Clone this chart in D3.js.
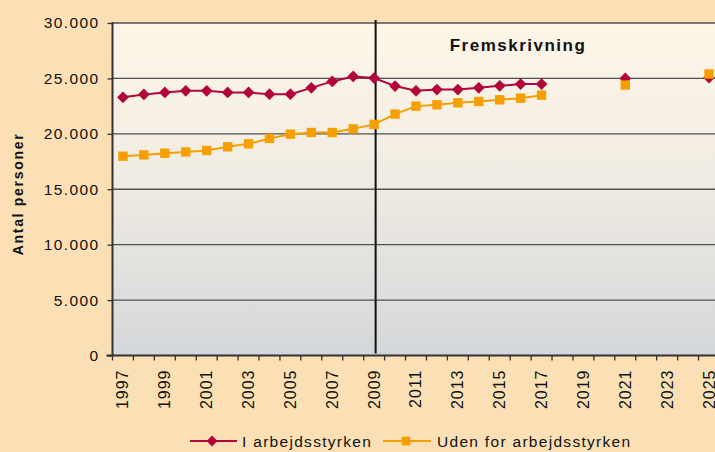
<!DOCTYPE html>
<html>
<head>
<meta charset="utf-8">
<script src="https://cdn.jsdelivr.net/npm/d3@7"></script>
<style>
  body { margin: 0; background: #fbe0b5; }
  svg { display: block; font-family: "Liberation Sans", Arial, sans-serif; }
</style>
</head>
<body>
<svg width="715" height="452"></svg>
<script>
// years on the category axis
const years = d3.range(1997, 2026);
// historic + short projection, then two projection points
const arbYears = d3.range(1997, 2018).concat([2021, 2025]);
const iArbejdsstyrken = [23300, 23550, 23730, 23880, 23880, 23730, 23730, 23580, 23580, 24150,
  24730, 25180, 25030, 24310, 23880, 24000, 24000, 24150, 24330, 24490, 24490, 25000, 25070];
const udenFor = [17980, 18100, 18250, 18370, 18500, 18830, 19100, 19580, 19970, 20120,
  20120, 20450, 20850, 21780, 22500, 22620, 22800, 22920, 23070, 23220, 23490, 24400, 25400];
const yTicks = [0, 5000, 10000, 15000, 20000, 25000, 30000];
const xLabels = years.filter(y => (y - 1997) % 2 === 0);
const splitYear = 2009;

function main(){
  const svg = d3.select("svg");
  const left = 112.5, top = 23, bottom = 355.5;
  const band = 20.93;

  const x = d3.scaleBand().domain(years).range([left, left + band * years.length]).padding(0);
  const y = d3.scaleLinear().domain([0, 30000]).range([bottom, top]);
  const cx = d => x(d) + x.bandwidth() / 2;

  // plot background gradient
  const grad = svg.append("defs").append("linearGradient").attr("id", "bg")
    .attr("x1", 0).attr("y1", 0).attr("x2", 0).attr("y2", 1);
  grad.append("stop").attr("offset", "0%").attr("stop-color", "#fef6e8");
  grad.append("stop").attr("offset", "45%").attr("stop-color", "#f1ece3");
  grad.append("stop").attr("offset", "100%").attr("stop-color", "#d4d7da");

  svg.append("rect").attr("x", left).attr("y", top)
    .attr("width", 720 - left).attr("height", bottom - top).attr("fill", "url(#bg)");

  // grid lines
  svg.append("g").selectAll("line").data(yTicks.slice(1)).enter().append("line")
    .attr("x1", left).attr("x2", 720)
    .attr("y1", d => y(d)).attr("y2", d => y(d))
    .attr("stroke", "#505050").attr("stroke-width", 1.3);

  // y axis
  const loc = d3.formatLocale({decimal: ",", thousands: ".", grouping: [3], currency: ["", ""]});
  const yAxis = d3.axisLeft(y).tickValues(yTicks).tickFormat(loc.format(",")).tickSize(5).tickPadding(8);
  const gy = svg.append("g").attr("transform", `translate(${left},0)`).call(yAxis);
  gy.select(".domain").remove();
  gy.selectAll(".tick line").attr("stroke", "#333").attr("stroke-width", 1.3);
  gy.selectAll("text").attr("font-size", 15.5).attr("fill", "#111")
    .attr("letter-spacing", 1.4).attr("font-family", "Liberation Sans, Arial, sans-serif");
  svg.append("line").attr("x1", left).attr("x2", left).attr("y1", top - 1).attr("y2", bottom)
    .attr("stroke", "#333").attr("stroke-width", 2);

  // x axis: ticks at category edges, labels at centers
  const gx = svg.append("g");
  gx.append("line").attr("x1", left - 6).attr("x2", 720).attr("y1", bottom).attr("y2", bottom)
    .attr("stroke", "#333").attr("stroke-width", 2);
  gx.selectAll(".xt").data(years).enter().append("line").attr("class", "xt")
    .attr("x1", d => x(d)).attr("x2", d => x(d))
    .attr("y1", bottom).attr("y2", bottom + 5)
    .attr("stroke", "#333").attr("stroke-width", 1.3);
  gx.selectAll(".xl").data(xLabels).enter().append("text").attr("class", "xl")
    .attr("transform", d => `translate(${cx(d) + 5.5},${bottom + 14}) rotate(-90)`)
    .attr("text-anchor", "end").attr("font-size", 16).attr("letter-spacing", 1)
    .attr("fill", "#111").text(d => d);

  // projection divider
  svg.append("line").attr("x1", cx(splitYear) + 1.5).attr("x2", cx(splitYear) + 1.5)
    .attr("y1", top - 3).attr("y2", bottom - 2).attr("stroke", "#111").attr("stroke-width", 2);
  svg.append("text").attr("x", 518).attr("y", 51).attr("text-anchor", "middle")
    .attr("font-size", 17).attr("font-weight", "bold").attr("letter-spacing", 1.5)
    .attr("fill", "#111").text("Fremskrivning");

  // y axis title
  svg.append("text").attr("transform", `translate(23,194) rotate(-90)`)
    .attr("text-anchor", "middle").attr("font-size", 14).attr("font-weight", "bold")
    .attr("letter-spacing", 1.7).attr("fill", "#111").text("Antal personer");

  const series = [
    {name: "I arbejdsstyrken", values: iArbejdsstyrken, color: "#b2063b", shape: d3.symbolDiamond2, size: 88},
    {name: "Uden for arbejdsstyrken", values: udenFor, color: "#f5a000", shape: d3.symbolSquare, size: 88}
  ];

  const line = d3.line().x(d => cx(d.year)).y(d => y(d.value));

  series.forEach(s => {
    s.pts = arbYears.map((yr, i) => ({year: yr, value: s.values[i]}));
    const connected = s.pts.filter(p => p.year <= 2017);
    svg.append("path").datum(connected).attr("d", line)
      .attr("fill", "none").attr("stroke", s.color).attr("stroke-width", 2);
  });
  // markers drawn after lines; orange above red
  series.forEach(s => {
    svg.append("g").selectAll("path").data(s.pts).enter().append("path")
      .attr("d", d3.symbol().type(s.shape).size(s.size))
      .attr("transform", d => `translate(${cx(d.year)},${y(d.value)})`)
      .attr("fill", s.color);
  });

  // legend
  const leg = [
    {x0: 190, x1: 237, mx: 212, tx: 242, s: series[0]},
    {x0: 383, x1: 431, mx: 406, tx: 437, s: series[1]}
  ];
  const ly = 441;
  leg.forEach(l => {
    svg.append("line").attr("x1", l.x0).attr("x2", l.x1).attr("y1", ly).attr("y2", ly)
      .attr("stroke", l.s.color).attr("stroke-width", 2);
    svg.append("path").attr("d", d3.symbol().type(l.s.shape).size(l.s.size * 0.85)())
      .attr("transform", `translate(${l.mx},${ly})`)
      .attr("fill", l.s.color);
    svg.append("text").attr("x", l.tx).attr("y", ly + 5.5).attr("font-size", 15.5)
      .attr("letter-spacing", 1.3).attr("fill", "#111").text(l.s.name);
  });
}

main();
</script>
</body>
</html>
